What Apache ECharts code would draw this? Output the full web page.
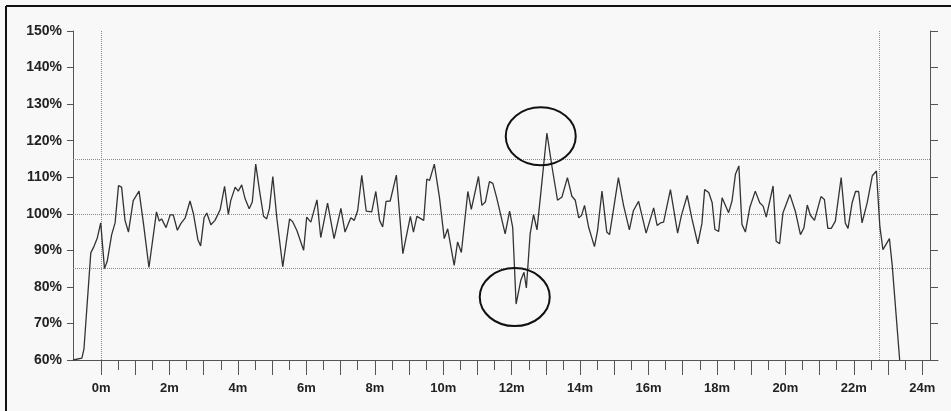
<!DOCTYPE html>
<html>
<head>
<meta charset="utf-8">
<script src="https://cdn.jsdelivr.net/npm/echarts@6/dist/echarts.min.js"></script>
<style>
html,body{margin:0;padding:0;background:#f8f8f8;}
#c{width:951px;height:411px;}
</style>
</head>
<body>
<div id="c"></div>
<script>
// ---- data ----
const minutes = [-0.82,-0.56,-0.50,-0.30,-0.22,-0.11,-0.01,0.10,0.18,0.31,0.41,0.51,0.60,0.70,0.80,0.94,1.11,1.24,1.40,1.62,1.70,1.77,1.90,2.02,2.11,2.23,2.33,2.46,2.60,2.70,2.83,2.91,3.01,3.09,3.21,3.33,3.48,3.61,3.72,3.79,3.92,4.01,4.11,4.21,4.33,4.42,4.52,4.63,4.75,4.84,4.92,5.02,5.14,5.31,5.51,5.60,5.72,5.92,6.01,6.13,6.31,6.42,6.62,6.81,7.01,7.13,7.30,7.40,7.50,7.62,7.75,7.91,8.03,8.14,8.23,8.33,8.45,8.63,8.82,9.04,9.13,9.23,9.43,9.52,9.60,9.74,9.89,10.03,10.13,10.32,10.42,10.53,10.72,10.82,11.03,11.13,11.23,11.35,11.45,11.56,11.81,11.94,12.03,12.13,12.27,12.36,12.43,12.54,12.64,12.74,12.86,13.03,13.18,13.34,13.47,13.63,13.76,13.86,13.96,14.04,14.13,14.25,14.42,14.51,14.64,14.78,14.86,14.98,15.12,15.27,15.44,15.56,15.71,15.93,16.15,16.25,16.35,16.44,16.64,16.85,16.96,17.13,17.27,17.44,17.56,17.64,17.76,17.86,17.94,18.05,18.15,18.34,18.44,18.54,18.64,18.73,18.83,18.96,19.12,19.25,19.35,19.44,19.64,19.73,19.83,19.93,20.13,20.29,20.44,20.54,20.64,20.73,20.85,21.04,21.14,21.24,21.34,21.46,21.63,21.75,21.83,21.95,22.05,22.14,22.24,22.39,22.54,22.66,22.76,22.85,23.04,23.12,23.34];
const values = [60,60.5,63,89.3,90.8,93.4,97.5,85.0,87,94.3,97.5,107.7,107.3,98.2,95,103.6,106.2,97.3,85.3,100.5,98,98.6,96.2,99.7,99.7,95.5,97.3,98.9,103.5,100,92.9,91.2,98.9,100.2,97,98.2,101.1,107.5,99.8,103.6,107.3,106.2,107.9,104.1,101.4,103.2,113.6,106.4,99.3,98.6,101.4,110.2,98.6,85.5,98.6,97.8,95.5,90,99.1,97.7,103.8,93.5,102.9,93.2,101.5,95,98.9,98.2,100.9,110.5,100.7,100.5,106.1,98.2,96.4,103.4,103.5,110.6,89.1,99.3,95,99.3,98.2,109.5,109.1,113.6,104.5,93.2,95.9,85.9,92.3,89.4,106.1,101.2,110.2,102.3,103.2,108.8,108.3,104.5,94.5,100.7,96.3,75.3,81.9,84,79.7,94.5,99.8,95.6,106.4,122.1,112.8,103.7,104.6,109.9,104.8,103.7,98.9,99.5,102.3,96.3,91.0,95.4,106.2,95.0,94.3,101.4,109.9,102.3,95.6,100.9,103.4,94.7,101.6,96.8,97.5,97.7,106.6,94.7,99.5,105.0,98.6,91.8,97.3,106.6,105.8,103,95.7,95.2,104.4,100.3,103.5,110.8,113.1,97.1,95.0,101.7,106.2,103.0,102.1,99.1,107.6,92.5,91.8,100.3,105.3,100.7,94.3,96.1,102.4,99.6,98.2,104.7,103.9,96.0,96.0,98.0,109.9,97.5,96.0,103.0,106.1,106.1,97.5,103.0,110.4,111.7,96.6,90.2,93.2,86.1,60];
const xLabelValues = [0,2,4,6,8,10,12,14,16,18,20,22,24];
const xMajorTicks = [0,1,2,3,4,5,6,7,8,9,10,11,12,13,14,15,16,17,18,19,20,21,22,23,24];
const xMinorTicks = [0.5,1.5,2.5,3.5,4.5,5.5,6.5,7.5,8.5,9.5,10.5,11.5,12.5,13.5,14.5,15.5,16.5,17.5,18.5,19.5,20.5,21.5,22.5,23.5];
const refLevels = [85,100,115];
const refMinutes = [0,22.73];
const annotMinutes = [12.85,12.09];
const annotValues = [121.2,77.2];

const X_MIN = -0.82, X_MAX = 24.46, X_RIGHT_AXIS = 24.24;
const Y_MIN = 60, Y_MAX = 150;

const chart = echarts.init(document.getElementById('c'), null, {renderer:'canvas'});
const font = '"Liberation Sans", Arial, sans-serif';
const axisColor = '#555';

const lineData = minutes.map((m,i)=>[m, values[i]]);
const markData = [];
refLevels.forEach(v=>markData.push([{coord:[X_MIN,v]},{coord:[X_RIGHT_AXIS,v]}]));
refMinutes.forEach(m=>markData.push([{coord:[m,Y_MIN]},{coord:[m,Y_MAX]}]));

chart.setOption({
  backgroundColor:'#f8f8f8',
  animation:false,
  grid:{left:73, top:31, right:13, bottom:51, containLabel:false},
  xAxis:[{
    type:'value', min:X_MIN, max:X_MAX, position:'bottom',
    axisLine:{show:true, onZero:false, lineStyle:{color:axisColor, width:1}},
    axisTick:{show:true, length:15, customValues:xMajorTicks, lineStyle:{color:axisColor, width:1}},
    axisLabel:{show:true, customValues:xLabelValues, margin:22, formatter:v=>v+'m',
      fontFamily:font, fontWeight:'bold', fontSize:13, color:'#222'},
    splitLine:{show:false}
  },{
    type:'value', min:X_MIN, max:X_MAX, position:'bottom', offset:0,
    axisLine:{show:false, onZero:false},
    axisTick:{show:true, length:10, customValues:xMinorTicks, lineStyle:{color:axisColor, width:1}},
    axisLabel:{show:false},
    splitLine:{show:false}
  }],
  yAxis:[{
    type:'value', min:Y_MIN, max:Y_MAX, interval:10, position:'left',
    axisLine:{show:true, onZero:false, lineStyle:{color:axisColor, width:1}},
    axisTick:{show:true, length:6, lineStyle:{color:axisColor}},
    axisLabel:{show:true, margin:11, formatter:v=>v+'%', fontFamily:font, fontWeight:'bold', fontSize:14, color:'#222'},
    splitLine:{show:false}
  },{
    type:'value', min:Y_MIN, max:Y_MAX, interval:10, position:'right', offset:-8,
    axisLine:{show:true, onZero:false, lineStyle:{color:axisColor, width:1}},
    axisTick:{show:true, length:8, lineStyle:{color:axisColor}},
    axisLabel:{show:false},
    splitLine:{show:false}
  }],
  series:[{
    type:'line', xAxisIndex:0, yAxisIndex:0, data:lineData, showSymbol:false,
    lineStyle:{color:'#333', width:1.3}, z:3,
    markLine:{silent:true, symbol:['none','none'], label:{show:false},
      lineStyle:{color:'#8a8a8a', type:'dotted', width:1}, data:markData, z:2}
  }]
});

function drawAnnotations(){
  const els = [];
  annotMinutes.forEach((m,i)=>{
    const p = chart.convertToPixel({xAxisIndex:0, yAxisIndex:0}, [m, annotValues[i]]);
    els.push({type:'ellipse', shape:{cx:p[0], cy:p[1], rx:35, ry:29},
      style:{fill:null, stroke:'#111', lineWidth:2}, z:10, silent:true});
  });
  els.push({type:'line', shape:{x1:6, y1:6, x2:951, y2:6}, style:{stroke:'#111', lineWidth:2}, z:10, silent:true});
  els.push({type:'line', shape:{x1:6, y1:6, x2:6, y2:411}, style:{stroke:'#111', lineWidth:2}, z:10, silent:true});
  chart.setOption({graphic:{elements:els}});
}
drawAnnotations();
</script>
</body>
</html>
